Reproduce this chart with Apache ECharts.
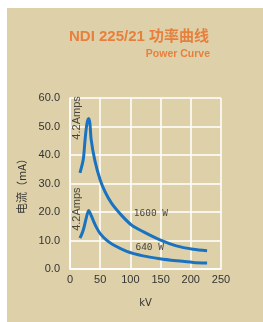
<!DOCTYPE html>
<html>
<head>
<meta charset="utf-8">
<script src="https://cdn.jsdelivr.net/npm/echarts@6/dist/echarts.min.js"></script>
<style>
  html, body { margin: 0; padding: 0; background: #fff; }
  #chart { position: absolute; left: 7px; top: 8px; width: 256px; height: 314px; }
</style>
</head>
<body>
<div id="chart"></div>
<script>
// 1600 W 曲线 (kV, mA)
const curve1600 = [
  [16.5, 33.7], [22, 38.5], [25, 45.5], [28, 51], [31, 52.8], [33, 51],
  [35, 45.5], [41, 38.2], [50, 31.2], [58, 27.1], [69, 23], [85, 18.9],
  [102, 15.4], [121, 13.1], [149, 10.2], [176, 8.1], [204, 6.9], [227, 6.4]
];
// 640 W 曲线
const curve640 = [
  [16.5, 10.8], [22, 13.7], [27.5, 18.4], [31, 20.5], [33, 19.8], [38, 17.3],
  [44, 14.5], [50, 12.4], [60, 10.2], [70, 8.7], [94, 6.2], [121, 4.6],
  [149, 3.6], [176, 2.9], [204, 2.3], [227, 2.1]
];
// 文字标注
const notes = [
  { value: [11.5, 53], text: "4.2Amps", rotate: 90 },
  { value: [11.5, 21], text: "4.2Amps", rotate: 90 },
  { value: [134, 19.3], text: "1600 W", rotate: 0 },
  { value: [132, 7.4], text: "640 W", rotate: 0 }
];

const chart = echarts.init(document.getElementById("chart"));

const lineStyle = { color: "#1a73c0", width: 3 };

chart.setOption({
  backgroundColor: "#DED1A9",
  animation: false,
  title: [
    {
      text: "NDI 225/21 功率曲线",
      left: 57,
      top: 16,
      textStyle: {
        color: "#E8803D",
        fontSize: 15,
        fontWeight: "bold",
        fontFamily: "Liberation Sans, Noto Sans CJK SC"
      }
    },
    {
      text: "Power Curve",
      right: 48,
      top: 36,
      textStyle: {
        color: "#E8803D",
        fontSize: 10.5,
        fontWeight: "bold",
        fontFamily: "Liberation Sans"
      }
    }
  ],
  grid: { left: 63, right: 42, top: 90, bottom: 53 },
  xAxis: {
    type: "value",
    min: 0,
    max: 250,
    interval: 50,
    name: "kV",
    nameLocation: "middle",
    nameGap: 29,
    nameTextStyle: { color: "#333", fontSize: 10, fontFamily: "DejaVu Sans" },
    axisLine: { lineStyle: { color: "#fff", width: 1.5 } },
    axisTick: { show: false },
    axisLabel: { color: "#333", fontSize: 11, margin: 5, fontFamily: "Liberation Sans" },
    splitLine: { lineStyle: { color: "#fff", width: 1.5 } }
  },
  yAxis: {
    type: "value",
    min: 0,
    max: 60,
    interval: 10,
    name: "电流（mA）",
    nameLocation: "middle",
    nameGap: 33,
    nameTextStyle: { color: "#333", fontSize: 11, fontFamily: "Noto Sans CJK SC" },
    axisLine: { show: true, lineStyle: { color: "#fff", width: 1.5 } },
    axisTick: { show: false },
    axisLabel: {
      color: "#333",
      fontSize: 11,
      margin: 10,
      fontFamily: "Liberation Sans",
      formatter: (v) => v.toFixed(1)
    },
    splitLine: { lineStyle: { color: "#fff", width: 1.5 } }
  },
  series: [
    {
      name: "1600 W",
      type: "line",
      data: curve1600,
      smooth: 0.3,
      symbol: "none",
      lineStyle: lineStyle
    },
    {
      name: "640 W",
      type: "line",
      data: curve640,
      smooth: 0.3,
      symbol: "none",
      lineStyle: lineStyle
    },
    {
      type: "scatter",
      symbolSize: 0,
      silent: true,
      data: notes.map((n) => ({
        value: n.value,
        label: {
          show: true,
          position: "inside",
          formatter: n.text,
          rotate: n.rotate,
          color: "#222",
          fontSize: n.rotate ? 11 : 9.5,
          fontFamily: n.rotate ? "Liberation Sans" : "DejaVu Sans Mono"
        }
      }))
    }
  ]
});
</script>
</body>
</html>
